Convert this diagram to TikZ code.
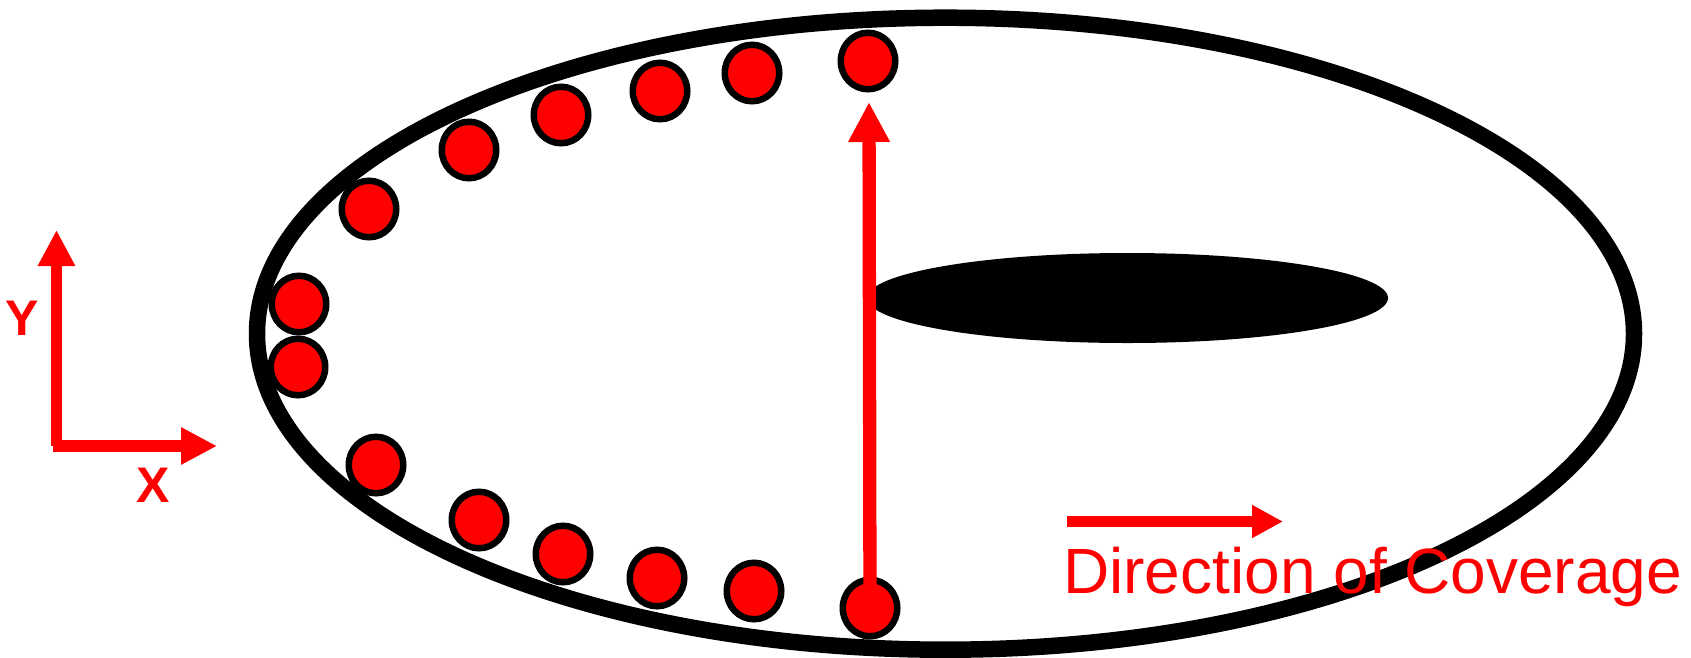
\documentclass[tikz,border=0pt]{standalone}
\usepackage{fontspec}
\setmainfont{Liberation Sans}
\usetikzlibrary{arrows.meta,shapes.geometric}
\definecolor{redc}{RGB}{255,0,0}
\begin{document}
\begin{tikzpicture}[x=1pt,y=-1pt,
  dot/.style={ellipse, draw=black, fill=redc, line width=6.5pt, minimum width=54.5pt, minimum height=56.5pt, inner sep=0pt},
  bigarrow/.style={draw=redc, line width=13.3pt, -{Triangle[length=40pt,width=39pt]}},
  axisarrow/.style={draw=redc, line width=11.5pt, -{Triangle[length=36pt,width=35pt]}},
  dirarrow/.style={draw=redc, line width=10.7pt, -{Triangle[length=31pt,width=31pt]}},
  redlabel/.style={text=redc, inner sep=0pt}]
\useasboundingbox (0,0) rectangle (1691,657);
% outer ellipse
\node[ellipse, draw=black, line width=16.5pt, minimum width=1377pt, minimum height=632pt, inner sep=0pt] (outer) at (945.5,333.7) {};
% inner black ellipse
\node[ellipse, fill=black, minimum width=521pt, minimum height=90pt, inner sep=0pt] (blade) at (1127.5,298) {};
% dots
\node[dot] (d1) at (868,61) {};
\node[dot] (d2) at (752,73) {};
\node[dot] (d3) at (660,91) {};
\node[dot] (d4) at (561,115) {};
\node[dot] (d5) at (469,150) {};
\node[dot] (d6) at (369,209) {};
\node[dot] (d7) at (299,304) {};
\node[dot] (d8) at (298,367) {};
\node[dot] (d9) at (376,465) {};
\node[dot] (d10) at (479,520) {};
\node[dot] (d11) at (563,554) {};
\node[dot] (d12) at (657,578) {};
\node[dot] (d13) at (754,591) {};
\node[dot] (d14) at (870,608) {};
% vertical arrow
\coordinate (vtip) at (869,102);
\draw[bigarrow] (d14.center) -- (vtip);
% axes
\coordinate (oy) at (56.5,446);
\coordinate (ox) at (53,446);
\coordinate (ytip) at (56.5,230);
\coordinate (xtip) at (217,446);
\draw[axisarrow] (oy) -- (ytip);
\draw[axisarrow] (ox) -- (xtip);
\node[redlabel, font=\bfseries\fontsize{50}{52}\selectfont] (ylab) at (22.5,318) {Y};
\node[redlabel, font=\bfseries\fontsize{50}{52}\selectfont] (xlab) at (153.5,485) {X};
% direction of coverage
\coordinate (ds) at (1067,521.5);
\coordinate (de) at (1283,521.5);
\draw[dirarrow] (ds) -- (de);
\node[redlabel, anchor=base west, font=\fontsize{64}{68}\selectfont] (dirlab) at (1063,593) {Direction of Coverage};
\end{tikzpicture}
\end{document}
